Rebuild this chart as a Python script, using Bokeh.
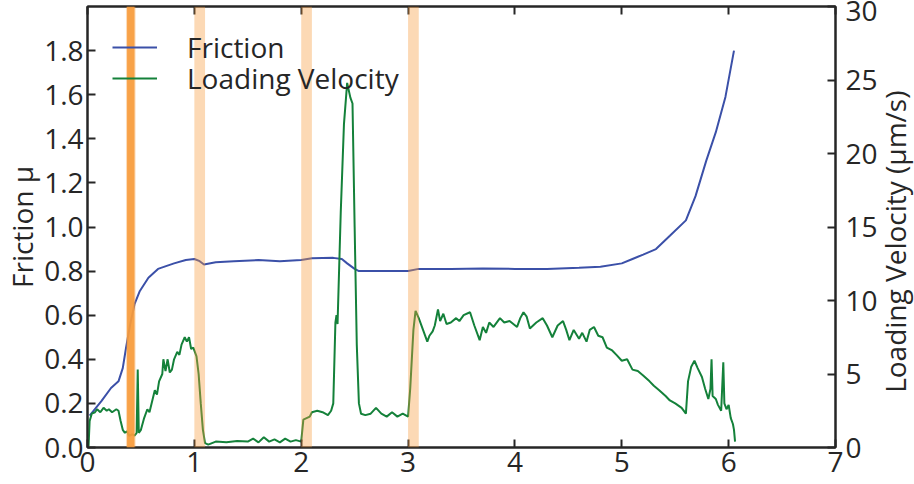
from bokeh.plotting import figure
from bokeh.models import (Range1d, LinearAxis, FixedTicker, BoxAnnotation, Legend, LegendItem,
                          PrintfTickFormatter, Label)
from bokeh.layouts import row
from bokeh.embed import file_html
from bokeh.resources import INLINE
import math

# ---- data ----
fric_t = [0.02, 0.13, 0.22, 0.29, 0.33, 0.36, 0.40, 0.44, 0.49, 0.57, 0.66, 0.81, 0.92, 1.00,
          1.05, 1.09, 1.2, 1.37, 1.6, 1.8, 2.0, 2.1, 2.3, 2.38, 2.43, 2.5, 2.54, 2.7, 3.0, 3.1,
          3.4, 3.7, 4.0, 4.3, 4.6, 4.8, 5.0, 5.1, 5.2, 5.32, 5.45, 5.6, 5.69, 5.79, 5.88, 5.97, 6.05]
fric_mu = [0.145, 0.21, 0.27, 0.30, 0.36, 0.45, 0.56, 0.65, 0.71, 0.77, 0.81, 0.835, 0.85, 0.855,
           0.845, 0.83, 0.84, 0.845, 0.85, 0.845, 0.85, 0.858, 0.86, 0.855, 0.835, 0.81, 0.80, 0.80,
           0.80, 0.81, 0.81, 0.812, 0.81, 0.81, 0.815, 0.82, 0.835, 0.855, 0.875, 0.90, 0.96, 1.03,
           1.14, 1.30, 1.43, 1.59, 1.80]

vel_t = [0.01, 0.02, 0.04, 0.07, 0.09, 0.12, 0.15, 0.18, 0.20, 0.23, 0.27, 0.29, 0.31, 0.33, 0.35,
         0.37, 0.39, 0.42, 0.44, 0.46, 0.47, 0.48, 0.50, 0.53, 0.56, 0.58, 0.61, 0.63, 0.65, 0.67,
         0.70, 0.71, 0.73, 0.75, 0.77, 0.79, 0.81, 0.84, 0.86, 0.88, 0.91, 0.93, 0.95, 0.97, 0.99,
         1.02, 1.04, 1.06, 1.08, 1.10, 1.13, 1.2, 1.3, 1.4, 1.5, 1.55, 1.6, 1.65, 1.7, 1.75, 1.8,
         1.85, 1.9, 1.95, 2.0, 2.02, 2.05, 2.08, 2.1, 2.15, 2.2, 2.25, 2.28, 2.30, 2.32, 2.33, 2.34,
         2.37, 2.40, 2.43, 2.46, 2.48, 2.50, 2.52, 2.54, 2.56, 2.6, 2.65, 2.7, 2.75, 2.8, 2.85, 2.9,
         2.95, 3.0, 3.02, 3.05, 3.07, 3.1, 3.14, 3.18, 3.2, 3.23, 3.25, 3.28, 3.3, 3.33, 3.36, 3.4,
         3.45, 3.48, 3.52, 3.58, 3.62, 3.67, 3.70, 3.73, 3.76, 3.8, 3.86, 3.9, 3.95, 4.02, 4.05,
         4.08, 4.11, 4.14, 4.2, 4.26, 4.3, 4.35, 4.4, 4.45, 4.48, 4.51, 4.55, 4.6, 4.63, 4.67, 4.7,
         4.74, 4.78, 4.82, 4.86, 4.91, 4.95, 5.0, 5.05, 5.1, 5.15, 5.2, 5.26, 5.3, 5.35, 5.41, 5.45,
         5.5, 5.56, 5.6, 5.62, 5.65, 5.68, 5.71, 5.75, 5.78, 5.81, 5.83, 5.84, 5.85, 5.88, 5.9, 5.93,
         5.95, 5.96, 5.98, 6.0, 6.02, 6.04, 6.05, 6.06]
vel_v = [0.1, 1.8, 2.3, 2.4, 2.6, 2.4, 2.7, 2.5, 2.6, 2.4, 2.6, 2.5, 1.8, 1.2, 1.0,
         1.1, 0.8, 0.9, 0.8, 1.0, 5.3, 1.0, 1.2, 2.0, 2.6, 2.4, 3.3, 3.9, 3.6, 4.5,
         5.0, 6.0, 5.2, 6.0, 5.1, 5.3, 6.0, 6.5, 6.3, 7.0, 7.5, 7.2, 7.5, 6.7, 6.8,
         6.2, 5.0, 3.0, 1.2, 0.3, 0.2, 0.4, 0.35, 0.45, 0.4, 0.6, 0.35, 0.7, 0.4, 0.55, 0.35,
         0.6, 0.4, 0.5, 0.4, 1.9, 2.0, 2.1, 2.4, 2.5, 2.4, 2.2, 2.5, 3.0, 8.5, 9.0, 8.4,
         16.0, 22.0, 24.8, 23.8, 23.4, 15.0, 7.0, 3.0, 2.3, 2.2, 2.3, 2.7, 2.3, 2.1, 2.4, 2.1,
         2.3, 2.1, 4.0, 8.0, 9.3, 8.8, 8.0, 7.2, 7.6, 7.9, 8.3, 9.4, 8.6, 9.1, 8.4, 8.5,
         8.8, 8.6, 9.0, 9.2, 8.3, 7.3, 8.2, 7.8, 8.5, 8.2, 8.8, 8.5, 8.6, 8.2, 8.8,
         9.2, 8.9, 8.1, 8.5, 8.8, 8.3, 7.5, 8.3, 8.6, 8.0, 7.3, 8.0, 7.4, 7.8, 7.2, 8.0,
         8.2, 7.6, 7.5, 6.8, 6.6, 6.3, 5.9, 6.0, 5.3, 5.2, 4.9, 4.5, 4.2, 3.9, 3.5, 3.2,
         3.0, 2.7, 2.3, 4.5, 5.5, 5.9, 5.4, 4.8, 4.0, 3.3, 4.0, 6.0, 3.5, 3.3, 2.9, 2.5,
         5.8, 3.0, 2.6, 2.9, 2.0, 1.6, 1.2, 0.4]

band_starts = [1.0, 2.0, 3.0]
band_width = 0.1
marker_start = 0.37
marker_width = 0.07

x_ticks = [0, 1, 2, 3, 4, 5, 6, 7]
mu_ticks = [0.0, 0.2, 0.4, 0.6, 0.8, 1.0, 1.2, 1.4, 1.6, 1.8]
v_ticks = [0, 5, 10, 15, 20, 25, 30]
v_label = "Loading Velocity (μm/s)"

# ---- style ----
FONT = "Open Sans"
TXT = "#262626"
BLUE = "#3b50a8"
GREEN = "#14813a"
ORANGE = "#f79b3c"
FS = "28px"

p = figure(width=880, height=484, output_backend="svg", toolbar_location=None,
           x_range=Range1d(0, 7), y_range=Range1d(0, 2.0),
           min_border_left=86, min_border_right=43, min_border_top=6, min_border_bottom=37)
p.extra_y_ranges = {"v": Range1d(0, 30)}
p.background_fill_color = "white"
p.border_fill_color = "white"
p.grid.visible = False
p.outline_line_color = TXT
p.outline_line_width = 2

fl = p.line(fric_t, fric_mu, line_color=BLUE, line_width=2)
vl = p.line(vel_t, vel_v, line_color=GREEN, line_width=2, y_range_name="v")

for b in band_starts:
    p.add_layout(BoxAnnotation(left=b, right=b + band_width, fill_color=ORANGE,
                               fill_alpha=0.38, line_color=None))
p.add_layout(BoxAnnotation(left=marker_start - 0.01, right=marker_start + marker_width + 0.01,
                           fill_color=ORANGE, fill_alpha=0.35, line_color=None))
p.add_layout(BoxAnnotation(left=marker_start, right=marker_start + marker_width,
                           fill_color=ORANGE, fill_alpha=0.9, line_color=None))


def style_axis(ax, show_labels=True):
    ax.axis_line_color = TXT
    ax.axis_line_width = 2
    ax.major_tick_line_color = TXT
    ax.major_tick_line_width = 2
    ax.major_tick_in = 8
    ax.major_tick_out = 0
    ax.minor_tick_line_color = None
    ax.major_label_text_font = FONT
    ax.major_label_text_color = TXT if show_labels else None
    ax.major_label_text_font_size = FS if show_labels else "1px"
    ax.major_label_standoff = 4 if show_labels else 0
    ax.axis_label_text_font = FONT
    ax.axis_label_text_font_size = FS
    ax.axis_label_text_font_style = "normal"
    ax.axis_label_text_color = TXT
    ax.axis_label_standoff = 0


xa = p.xaxis[0]
xa.ticker = FixedTicker(ticks=x_ticks)
style_axis(xa)

ya = p.yaxis[0]
ya.ticker = FixedTicker(ticks=mu_ticks)
ya.formatter = PrintfTickFormatter(format="%.1f")
ya.axis_label = "Friction μ"
style_axis(ya)

ra = LinearAxis(y_range_name="v", ticker=FixedTicker(ticks=v_ticks))
style_axis(ra)
ra.major_label_standoff = 10
p.add_layout(ra, "right")

ta = LinearAxis(ticker=FixedTicker(ticks=x_ticks))
style_axis(ta, show_labels=False)
p.add_layout(ta, "above")

common = dict(border_line_color=None, background_fill_color=None,
              label_text_font=FONT, label_text_font_size=FS, label_text_color=TXT,
              glyph_width=45, glyph_height=20, label_height=20, label_standoff=30,
              spacing=0, margin=0, padding=0)
# legend positions are (x, bottom) in px from the frame's bottom-left
leg1 = Legend(items=[LegendItem(label="Friction", renderers=[fl])], location=(25, 381), **common)
leg2 = Legend(items=[LegendItem(label="Loading Velocity", renderers=[vl])], location=(25, 350), **common)
p.add_layout(leg1)
p.add_layout(leg2)

# right-hand axis title, reading bottom-to-top, in a narrow strip beside the plot
side = figure(width=34, height=484, output_backend="svg", toolbar_location=None,
              x_axis_location=None, y_axis_location=None,
              x_range=Range1d(0, 1), y_range=Range1d(0, 30),
              min_border_left=0, min_border_right=0, min_border_top=6, min_border_bottom=37)
side.grid.visible = False
side.outline_line_color = None
side.background_fill_color = "white"
side.border_fill_color = "white"
side.add_layout(Label(x=0.5, y=14.0, x_offset=-3, text=v_label, angle=math.pi / 2,
                      text_align="center", text_baseline="middle", text_font=FONT,
                      text_font_size=FS, text_color=TXT))

layout = row(p, side, spacing=0)
open("out.html", "w").write(file_html(layout, INLINE))
